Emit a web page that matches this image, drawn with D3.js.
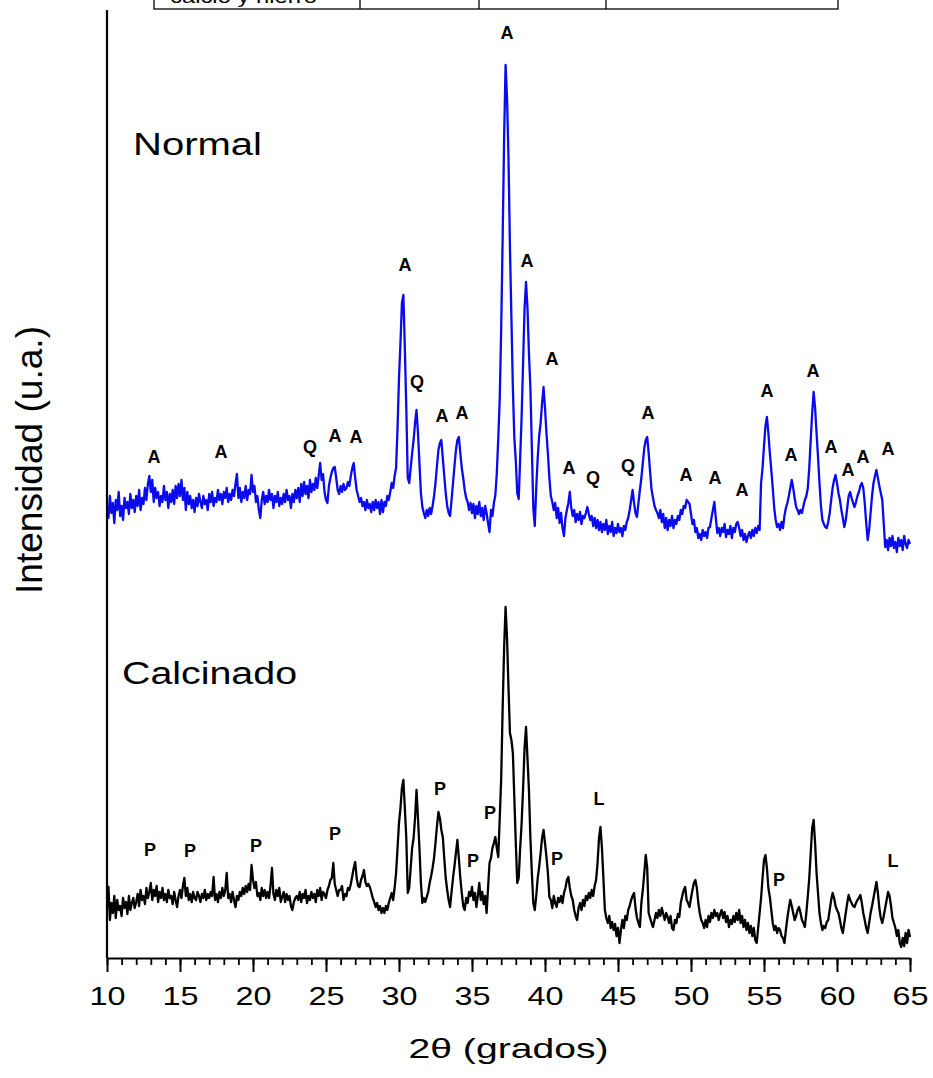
<!DOCTYPE html>
<html>
<head>
<meta charset="utf-8">
<script src="https://cdn.jsdelivr.net/npm/d3@7"></script>
<style>
body { margin: 0; background: #fff; }
svg text { font-family: Arial, "Liberation Sans", sans-serif; }
</style>
</head>
<body>
<svg id="chart"></svg>
<script>
// 2theta scan: 10 to 65 degrees, 0.1 degree step
var twoThetaStart = 10;
var twoThetaStep = 0.1;

// intensities, one row per degree
var normalCounts = [
  52,40,62,45,55,35,58,48,66,42,
  52,38,60,50,56,44,64,50,58,46,
  62,52,68,48,60,54,70,58,74,82,
  66,78,56,70,60,66,52,62,56,72,
  58,66,50,64,56,68,54,72,60,74,
  62,78,58,70,48,66,54,62,50,58,
  46,60,52,64,56,50,62,54,58,48,
  64,56,66,52,60,56,68,58,64,54,
  66,60,70,56,64,58,68,62,74,84,
  60,70,56,66,60,72,58,68,64,83,
  66,72,56,62,48,40,58,66,54,62,
  56,68,58,64,50,62,56,66,52,60,
  54,64,56,68,58,62,50,64,56,68,
  60,70,56,74,62,76,64,72,60,78,
  66,74,68,80,70,82,95,78,84,66,
  58,55,72,80,86,90,91,80,68,64,
  72,66,74,68,70,76,72,82,90,95,
  80,68,62,56,60,52,56,48,58,50,
  54,46,56,48,58,50,56,44,58,46,
  56,52,62,58,66,75,70,82,90,130,
  180,215,255,263,210,150,80,75,90,105,
  118,135,148,125,95,65,51,45,40,48,
  42,50,44,52,62,75,92,108,115,118,
  100,82,65,52,45,42,58,75,92,108,
  118,121,105,90,80,68,60,56,48,55,
  45,54,40,52,44,56,42,50,38,52,
  45,35,26,48,42,55,63,85,120,159,
  230,320,420,493,460,400,310,240,170,120,
  97,65,59,100,142,195,250,276,250,205,
  170,110,50,32,70,100,122,135,155,171,
  150,125,104,80,62,56,48,55,40,50,
  35,45,30,22,40,48,55,66,50,42,
  48,36,44,38,46,34,42,40,45,51,
  44,38,42,32,40,30,38,28,36,26,
  34,28,38,24,32,26,36,22,30,25,
  34,26,30,22,32,28,36,40,48,58,
  68,55,45,41,55,68,80,95,110,118,
  121,105,86,68,60,52,48,45,40,48,
  36,44,30,40,28,38,32,42,30,38,
  34,42,38,48,44,52,50,58,56,54,
  44,34,38,26,30,20,24,18,28,22,
  26,20,30,31,40,48,56,40,25,30,
  22,30,26,34,21,28,24,32,20,30,
  26,34,36,30,22,28,18,24,16,22,
  26,20,28,22,30,25,32,28,75,90,
  112,132,141,125,105,88,70,50,38,31,
  34,28,36,30,42,50,55,62,70,78,
  70,60,51,48,44,48,45,52,58,62,
  70,90,118,145,166,150,125,101,75,52,
  38,34,31,30,36,45,58,70,78,83,
  75,65,58,48,40,31,38,50,62,66,
  60,55,51,56,62,66,72,75,70,55,
  35,18,28,45,62,75,82,88,80,72,
  65,58,35,11,18,8,20,12,22,10,
  16,6,20,12,18,8,22,14,10,18,
  14
];

var calcinadoCounts = [
  51,71,38,55,45,62,40,58,48,52,
  42,60,50,56,44,62,48,55,60,50,
  56,64,52,68,58,62,54,70,60,66,
  75,58,68,62,72,56,66,60,70,58,
  64,56,68,60,62,54,66,58,51,62,
  68,60,72,80,62,70,58,64,56,66,
  60,58,66,62,56,64,60,68,58,64,
  60,66,62,81,58,64,56,66,60,70,
  62,68,85,60,64,56,66,58,51,62,
  58,66,62,70,64,72,66,74,68,93,
  78,70,76,62,65,58,70,62,68,60,
  66,60,72,90,64,58,68,62,70,56,
  61,66,56,64,58,62,52,48,56,60,
  62,58,66,56,64,60,68,55,62,58,
  66,60,64,56,68,62,70,58,66,64,
  60,68,72,78,80,95,74,68,62,68,
  68,72,58,64,62,70,68,74,82,90,
  96,80,72,71,78,82,88,76,72,74,
  71,66,60,56,51,55,48,52,45,50,
  45,52,48,55,60,65,58,70,85,110,
  135,150,170,178,150,120,65,70,90,110,
  120,140,168,140,110,75,55,60,56,61,
  66,75,82,90,100,115,132,146,140,128,
  121,100,80,68,58,51,66,80,92,105,
  118,100,80,65,52,48,60,55,66,62,
  71,58,65,51,62,75,58,66,54,62,
  45,70,95,100,110,115,121,110,101,140,
  180,250,310,351,320,270,225,218,205,160,
  115,75,80,110,135,170,210,231,200,168,
  120,85,55,48,62,80,91,105,120,128,
  115,101,85,61,58,50,62,55,51,60,
  56,62,55,65,70,78,81,70,62,58,
  48,42,38,50,55,48,58,52,62,58,
  65,60,68,62,72,78,95,120,131,110,
  80,48,40,35,42,30,36,28,34,22,
  30,15,28,38,30,42,38,48,52,58,
  62,65,50,40,35,31,55,68,85,103,
  90,45,40,35,31,38,45,40,48,42,
  50,44,38,45,41,35,42,30,28,38,
  35,44,41,55,62,68,71,58,55,51,
  60,68,75,78,70,55,45,38,35,30,
  38,31,42,36,45,40,48,42,45,38,
  44,48,40,46,36,42,31,38,34,42,
  36,45,38,48,35,42,31,38,28,35,
  25,32,22,30,18,15,30,45,60,80,
  98,103,90,70,61,48,35,28,32,25,
  30,28,22,20,15,28,40,50,58,52,
  45,38,42,48,51,45,38,35,31,45,
  62,80,105,130,138,115,85,65,45,35,
  28,32,30,36,38,48,58,65,60,52,
  48,45,38,30,25,35,45,55,63,58,
  55,52,51,55,58,60,63,55,45,38,
  30,25,35,45,52,60,68,76,65,50,
  40,35,42,50,58,66,62,52,40,35,
  30,22,28,15,11,20,12,25,15,28,
  21
];

// vertical shift of the Normal pattern above the Calcinado one
var normalOffset = 400;

// phase marks: [letter, 2theta, intensity]
var normalPeaks = [
  ["A",13.22,95],["A",17.81,100],["Q",23.90,105],["A",25.62,116],["A",27.05,115],
  ["A",30.41,287],["Q",31.23,170],["A",32.95,136],["A",34.32,139],["A",37.40,519],
  ["A",38.77,291],["A",40.48,193],["A",41.64,84],["Q",43.29,74],["Q",45.68,86],
  ["A",47.05,139],["A",49.66,77],["A",51.64,74],["A",53.49,62],["A",55.21,161],
  ["A",56.85,97],["A",58.36,181],["A",59.59,105],["A",60.75,82],["A",61.78,95],
  ["A",63.49,103]
];
var calcinadoPeaks = [
  ["P",12.95,102],["P",15.68,101],["P",20.21,106],["P",25.62,118],["P",32.81,163],
  ["P",35.07,91],["P",36.23,139],["P",40.82,93],["L",43.70,153],["P",56.03,72],
  ["L",63.84,91]
];

// sample names: [name, 2theta, intensity, offset, text width]
var sampleNames = [["Normal",11.78,403,normalOffset,129],["Calcinado",11.03,274,0,175]];

var xTicks = [10,15,20,25,30,35,40,45,50,55,60,65];

var width = 933;
var height = 1078;

var svg = d3.select("svg#chart")
    .attr("width", width)
    .attr("height", height)
    .style("background", "#fff");

var x = d3.scaleLinear().domain([10, 65]).range([107, 910]);
var y = d3.scaleLinear().domain([0, 948]).range([958, 10]);

// bit of the table from the page above
var table = svg.append("g");
table.append("rect")
    .attr("x", 154).attr("y", -5)
    .attr("width", 684).attr("height", 14)
    .attr("fill", "none").attr("stroke", "#000").attr("stroke-width", 1.3);
[360, 479, 606].forEach(function(px) {
    table.append("line")
        .attr("x1", px).attr("x2", px).attr("y1", 0).attr("y2", 9)
        .attr("stroke", "#000").attr("stroke-width", 1.3);
});
table.append("text")
    .attr("x", 170).attr("y", 3)
    .attr("textLength", 147).attr("lengthAdjust", "spacingAndGlyphs")
    .style("font-size", "19px")
    .text("calcio y hierro");

var line = function(offset) {
    return d3.line()
        .x(function(d, i) { return x(twoThetaStart + i * twoThetaStep); })
        .y(function(d) { return y(d + offset); });
};

svg.append("path")
    .datum(normalCounts)
    .attr("fill", "none")
    .attr("stroke", "#0a0af0")
    .attr("stroke-width", 2.3)
    .attr("stroke-linejoin", "round")
    .attr("d", line(normalOffset));

svg.append("path")
    .datum(calcinadoCounts)
    .attr("fill", "none")
    .attr("stroke", "#000")
    .attr("stroke-width", 2.3)
    .attr("stroke-linejoin", "round")
    .attr("d", line(0));

var drawPeaks = function(peaks, offset) {
    svg.append("g").selectAll("text")
        .data(peaks)
        .enter().append("text")
        .attr("x", function(d) { return x(d[1]); })
        .attr("y", function(d) { return y(d[2] + offset); })
        .attr("text-anchor", "middle")
        .style("font-size", "18px")
        .style("font-weight", "bold")
        .text(function(d) { return d[0]; });
};
drawPeaks(normalPeaks, normalOffset);
drawPeaks(calcinadoPeaks, 0);

svg.append("g").selectAll("text")
    .data(sampleNames)
    .enter().append("text")
    .attr("x", function(d) { return x(d[1]); })
    .attr("y", function(d) { return y(d[2] + d[3]); })
    .attr("textLength", function(d) { return d[4]; })
    .attr("lengthAdjust", "spacingAndGlyphs")
    .style("font-size", "31px")
    .text(function(d) { return d[0]; });

// axes
svg.append("line")
    .attr("x1", x(10)).attr("x2", x(10))
    .attr("y1", y(948)).attr("y2", y(0))
    .attr("stroke", "#000").attr("stroke-width", 2.2);

svg.append("g")
    .attr("transform", "translate(0," + y(0) + ")")
    .call(d3.axisBottom(x).tickValues(d3.range(10, 66)).tickSize(7).tickSizeOuter(0).tickFormat(""))
    .call(function(g) {
        g.select(".domain").attr("stroke-width", 2.2);
        g.selectAll(".tick line").attr("stroke-width", 1.8);
    });

svg.append("g")
    .attr("transform", "translate(0," + y(0) + ")")
    .call(d3.axisBottom(x).tickValues(xTicks).tickSize(14).tickSizeOuter(0))
    .call(function(g) {
        g.select(".domain").remove();
        g.selectAll(".tick line").attr("stroke-width", 2);
        g.selectAll(".tick text")
            .attr("y", 47).attr("dy", null)
            .attr("fill", "#000")
            .attr("textLength", 36).attr("lengthAdjust", "spacingAndGlyphs")
            .style("font-size", "26px")
            .style("font-family", "Arial, 'Liberation Sans', sans-serif");
    });

svg.append("text")
    .attr("x", (x(10) + x(65)) / 2)
    .attr("y", 1058)
    .attr("text-anchor", "middle")
    .attr("textLength", 200).attr("lengthAdjust", "spacingAndGlyphs")
    .style("font-size", "28px")
    .text("2\u03b8 (grados)");

svg.append("text")
    .attr("transform", "translate(42,460) rotate(-90)")
    .attr("text-anchor", "middle")
    .attr("textLength", 268).attr("lengthAdjust", "spacingAndGlyphs")
    .style("font-size", "37px")
    .text("Intensidad (u.a.)");
</script>
</body>
</html>
